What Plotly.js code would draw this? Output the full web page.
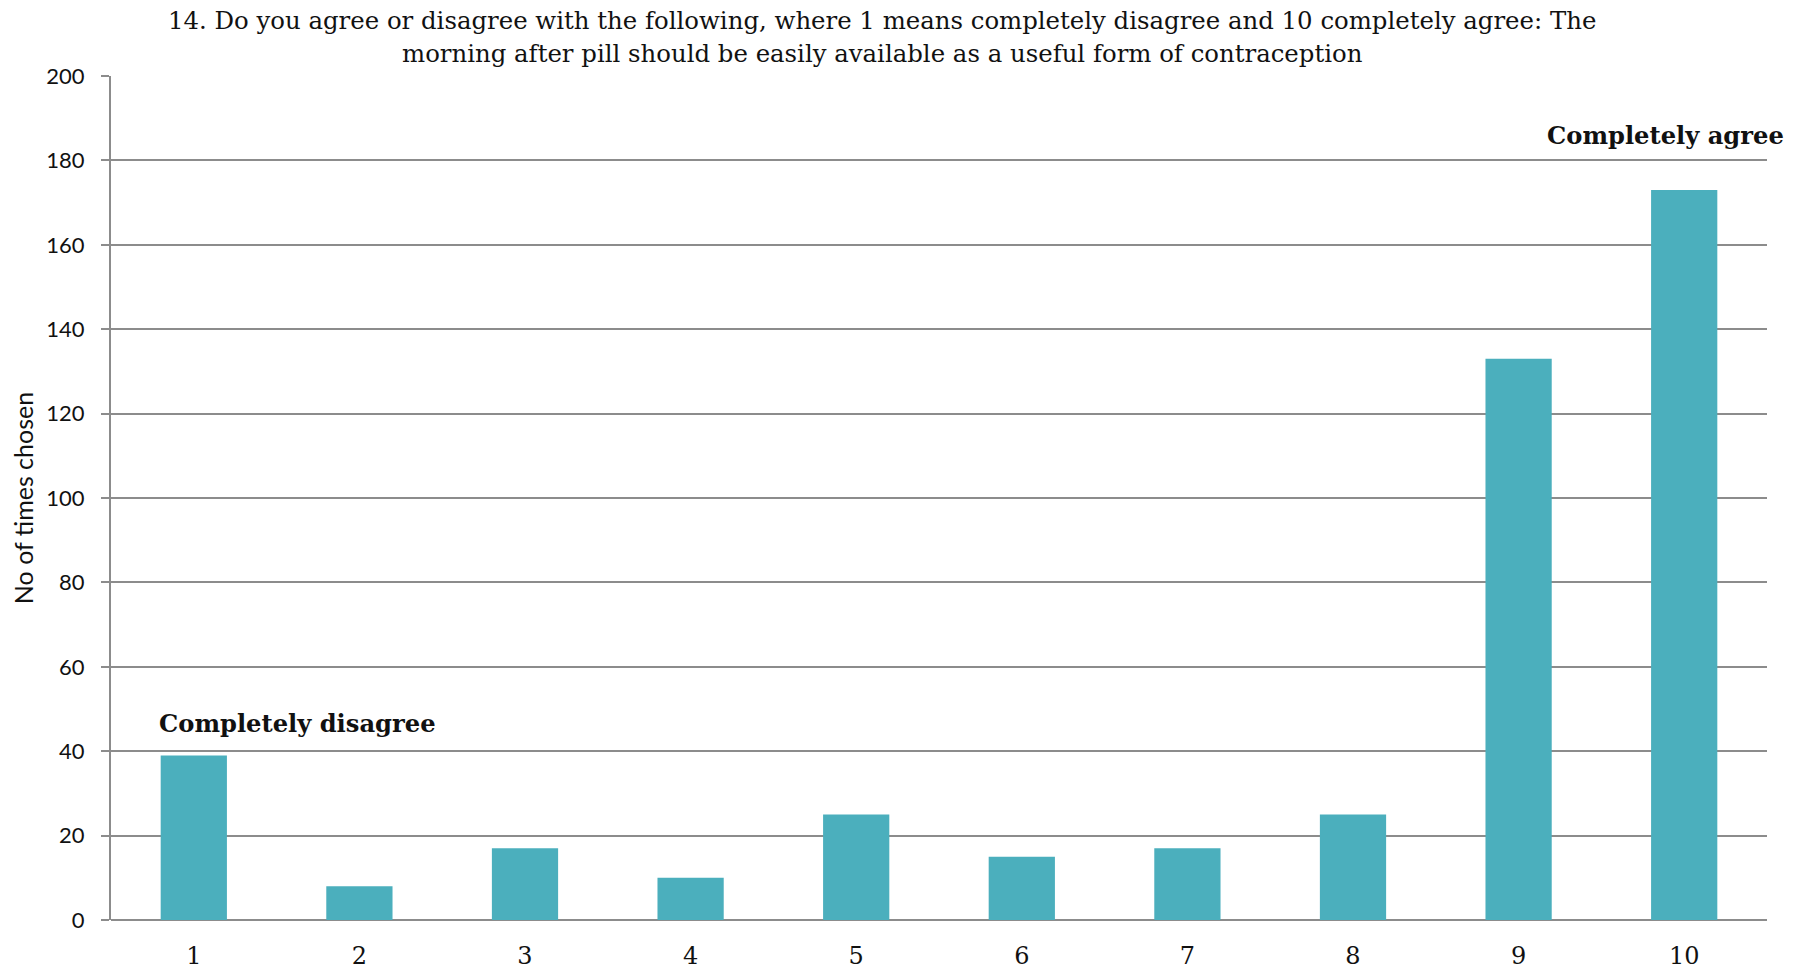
<!DOCTYPE html>
<html>
<head>
<meta charset="utf-8">
<script src="https://cdn.plot.ly/plotly-3.0.1.min.js"></script>
<style>html,body{margin:0;padding:0;background:#fff;}#chart{width:1798px;height:975px;}</style>
</head>
<body>
<div id="chart"></div>
<script>
const categories = ["1","2","3","4","5","6","7","8","9","10"];
const timesChosen = [39, 8, 17, 10, 25, 15, 17, 25, 133, 173];
const titleLine1 = "14. Do you agree or disagree with the following, where 1 means completely disagree and 10 completely agree: The";
const titleLine2 = "morning after pill should be easily available as a useful form of contraception";
const yTitle = "No of times chosen";
const lowLabel = "Completely disagree";
const highLabel = "Completely agree";

const trace = {
  type: "bar",
  x: categories,
  y: timesChosen,
  marker: {color: "#4BAFBD"},
  hoverinfo: "x+y"
};

const titleFont = {family: "DejaVu Serif", size: 24.4, color: "#111"};
const labelFont = {family: "DejaVu Serif", size: 24.2, color: "#111"};

const layout = {
  width: 1798,
  height: 975,
  paper_bgcolor: "#ffffff",
  plot_bgcolor: "#ffffff",
  margin: {l: 111, r: 31, t: 76, b: 55},
  bargap: 0.6,
  showlegend: false,
  xaxis: {
    type: "category",
    showgrid: false,
    showline: false,
    ticks: "outside",
    ticklen: 14,
    tickcolor: "rgba(0,0,0,0)",
    tickfont: {family: "DejaVu Serif", size: 24, color: "#111"},
    zeroline: false
  },
  yaxis: {
    range: [0, 200],
    dtick: 20,
    showgrid: true,
    gridcolor: "#8c8c8c",
    gridwidth: 2,
    showline: true,
    linecolor: "#8c8c8c",
    linewidth: 2,
    zeroline: true,
    zerolinecolor: "#8c8c8c",
    zerolinewidth: 2,
    ticks: "outside",
    ticklen: 8,
    tickwidth: 2,
    tickcolor: "#8c8c8c",
    ticklabelstandoff: 12,
    tickfont: {family: "Lato", size: 22, color: "#111"},
    title: {text: yTitle, font: {family: "Lato", size: 25, color: "#111"}, standoff: 6}
  },
  annotations: [
    {
      text: titleLine1,
      xref: "paper", yref: "paper",
      x: 0.4656, y: 1.0652,
      xanchor: "center", yanchor: "middle",
      showarrow: false,
      font: titleFont
    },
    {
      text: titleLine2,
      xref: "paper", yref: "paper",
      x: 0.4656, y: 1.0261,
      xanchor: "center", yanchor: "middle",
      showarrow: false,
      font: titleFont
    },
    {
      text: "<b>" + lowLabel + "</b>",
      xref: "paper", yref: "y",
      x: 0.0278, y: 46.5,
      xanchor: "left", yanchor: "middle",
      showarrow: false,
      font: labelFont
    },
    {
      text: "<b>" + highLabel + "</b>",
      xref: "paper", yref: "y",
      x: 1.0115, y: 186,
      xanchor: "right", yanchor: "middle",
      showarrow: false,
      font: labelFont
    }
  ]
};

Plotly.newPlot("chart", [trace], layout, {displayModeBar: false, staticPlot: true});
</script>
</body>
</html>
